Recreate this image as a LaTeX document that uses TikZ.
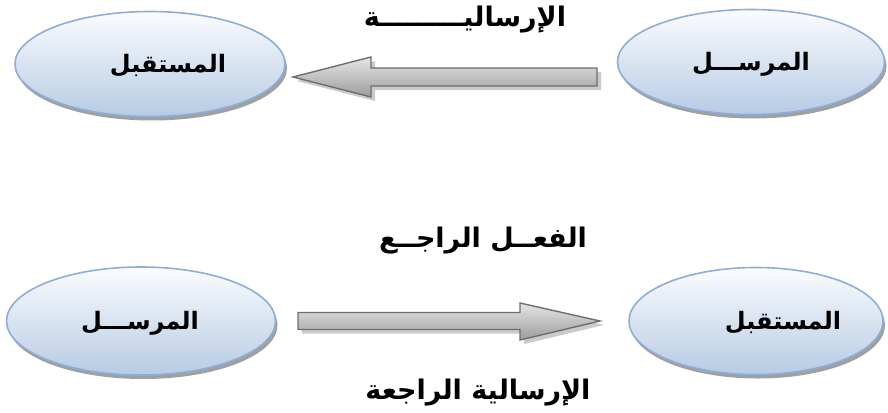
\documentclass[tikz,border=0pt]{standalone}
\usepackage{fontspec}
\usetikzlibrary{shapes.geometric,shadows,calc}
\TeXXeTstate=1
\newfontfamily\arabicfont[Script=Arabic]{DejaVu Sans}
\definecolor{ellborder}{HTML}{8EAEDA}
\definecolor{elltop}{HTML}{FBFCFE}
\definecolor{ellbot}{HTML}{B7CBE4}
\definecolor{arrline}{HTML}{6E6E6E}
\definecolor{arrtop}{HTML}{E6E6E6}
\definecolor{arrbot}{HTML}{9C9C9C}
\begin{document}
\begin{tikzpicture}[x=1pt,y=-1pt,
  oval/.style={ellipse, draw=ellborder, line width=1.6pt, top color=elltop, bottom color=ellbot,
    inner sep=0pt,
    drop shadow={shadow xshift=2pt, shadow yshift=-4pt, fill=black!50, opacity=.75}},
  lbl/.style={font=\arabicfont\bfseries\fontsize{24}{28}\selectfont, inner sep=0pt},
  albl/.style={font=\arabicfont\bfseries\fontsize{27}{31}\selectfont, inner sep=0pt},
  blockarrow/.style={draw=arrline, line width=1.4pt, line join=miter, top color=arrtop, bottom color=arrbot,
    drop shadow={shadow xshift=4pt, shadow yshift=-4pt, fill=black!35, opacity=.6}}]
\useasboundingbox (0,0) rectangle (888,412);
% top row
\node[oval, minimum width=270pt, minimum height=105pt] (recvA) at (150,64) {};
\node[lbl] (recvAt) at (168,66) {\beginR المستقبل\endR};
\node[oval, minimum width=267pt, minimum height=105pt] (sendA) at (751,62) {};
\node[lbl] (sendAt) at (751,64) {\beginR المرســـل\endR};
\coordinate (aTail) at (597,77);
\coordinate (aTip) at (293,77);
\path[blockarrow] ($(aTail)+(0,-9)$) -- (371,68) -- (371,57) -- (aTip) -- (371,97) -- (371,86) -- ($(aTail)+(0,9)$) -- cycle;
\node[albl] (msgA) at (465,20) {\beginR الإرساليـــــــــة\endR};
% bottom row
\node[oval, minimum width=269pt, minimum height=108pt] (sendB) at (141,321) {};
\node[lbl] (sendBt) at (140,323) {\beginR المرســـل\endR};
\node[oval, minimum width=254pt, minimum height=107pt] (recvB) at (756,321) {};
\node[lbl] (recvBt) at (783,323) {\beginR المستقبل\endR};
\coordinate (bTail) at (298,321);
\coordinate (bTip) at (600,321);
\path[blockarrow] ($(bTail)+(0,-8.5)$) -- (520,312.5) -- (520,303) -- (bTip) -- (520,340) -- (520,329.5) -- ($(bTail)+(0,8.5)$) -- cycle;
\node[albl] (fbA) at (483,241) {\beginR الفعــل الراجــع\endR};
\node[albl] (fbB) at (478,393) {\beginR الإرسالية الراجعة\endR};
\end{tikzpicture}
\end{document}
